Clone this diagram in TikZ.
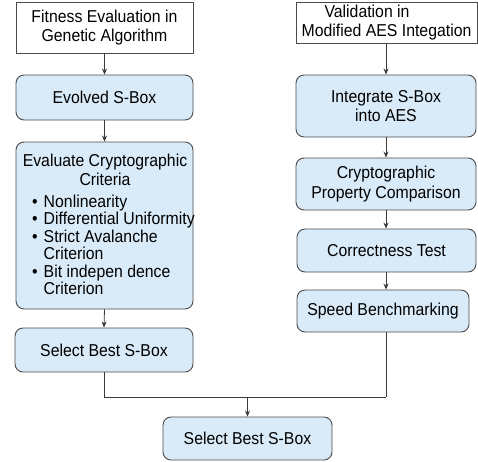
\documentclass[tikz,border=0pt]{standalone}
\usepackage{fontspec}
\setmainfont{Liberation Sans}[FakeStretch=0.92]
\usetikzlibrary{arrows.meta,calc}
\definecolor{boxblue}{HTML}{D9EBF9}
\definecolor{bordergray}{HTML}{4A4A4A}
\definecolor{linegray}{HTML}{3A3A3A}
\tikzset{
  lbl/.style={font=\fontsize{17.2}{19.5}\selectfont, text=black},
  plainbox/.style={draw=bordergray, fill=white, line width=0.9pt, align=center, lbl, inner sep=0pt},
  bluebox/.style={draw=bordergray, fill=boxblue, rounded corners=8pt, line width=0.9pt, align=center, lbl, inner sep=0pt},
  arr/.style={draw=linegray, line width=0.8pt, -{Stealth[length=6pt,width=5pt]}},
  conn/.style={draw=linegray, line width=0.8pt}
}
\begin{document}
\begin{tikzpicture}[x=1pt,y=-1pt]
\useasboundingbox[fill=white] (0,0) rectangle (478,461);
% left column
\node[plainbox, minimum width=177pt, minimum height=51pt] (fit) at (104.5,27.5) {Fitness Evaluation in\\Genetic Algorithm};
\node[bluebox, minimum width=177pt, minimum height=45pt] (evolved) at (104.5,97.5) {Evolved S-Box};
\node[bluebox, minimum width=177pt, minimum height=167pt] (eval) at (104.5,225.5) {};
\node[lbl, align=center, inner sep=0pt] (evalhead) at (105,170) {Evaluate Cryptographic\\Criteria};
\node[lbl, anchor=west, inner sep=0pt] (evallist) at (32,247) {%
  \renewcommand\arraystretch{1}%
  \begin{tabular}{@{}l@{\hspace{6pt}}l@{}}
  \textbullet & Nonlinearity\\[-2pt]
  \textbullet & Differential Uniformity\\[-2pt]
  \textbullet & Strict Avalanche\\[-2pt]
   & Criterion\\[-2pt]
  \textbullet & Bit indepen dence\\[-2pt]
   & Criterion
  \end{tabular}};
\node[bluebox, minimum width=178pt, minimum height=44pt] (selL) at (104,350) {Select Best S-Box};
% right column
\node[plainbox, minimum width=181pt, minimum height=41pt] (valid) at (386.5,22.5) {\makebox[124pt][l]{Validation in}\\Modified AES Integation};
\node[bluebox, minimum width=180pt, minimum height=62pt] (integ) at (386,106) {Integrate S-Box\\into AES};
\node[bluebox, minimum width=180pt, minimum height=52pt] (crypto) at (386,184) {Cryptographic\\Property Comparison};
\node[bluebox, minimum width=179pt, minimum height=43pt] (correct) at (386.5,250.5) {Correctness Test};
\node[bluebox, minimum width=172pt, minimum height=42pt] (speed) at (383,311) {Speed Benchmarking};
% bottom
\node[bluebox, minimum width=169pt, minimum height=43pt] (final) at (247.5,438.5) {Select Best S-Box};
\coordinate (jR) at (386,397);
% connectors
\draw[arr] (fit.south) -- (evolved.north);
\draw[arr] (evolved.south) -- (eval.north);
\draw[arr] (eval.south) -- (selL.north);
\draw[arr] (valid.south -| integ.north) -- (integ.north);
\draw[arr] (integ.south) -- (crypto.north);
\draw[arr] (crypto.south) -- (correct.north -| crypto.south);
\draw[arr] (correct.south -| crypto.south) -- (speed.north -| crypto.south);
\draw[conn] (selL.south) |- (jR);
\draw[conn] (speed.south -| integ.south) -- (jR);
\draw[arr] (final.north |- jR) -- (final.north);
\end{tikzpicture}
\end{document}
